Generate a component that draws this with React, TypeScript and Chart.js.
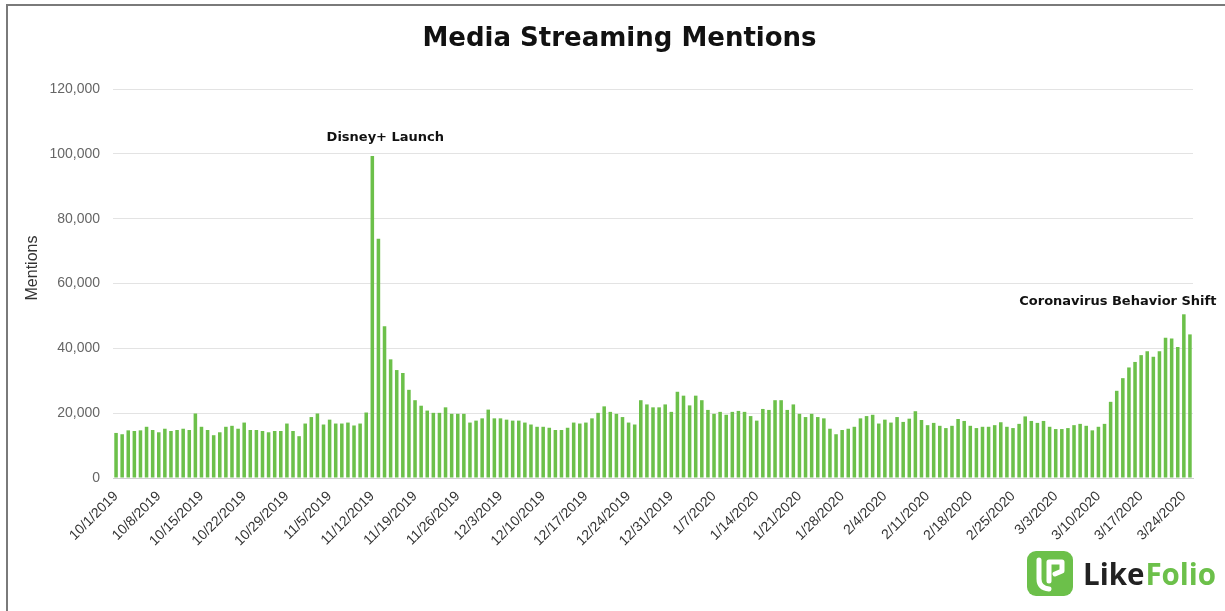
import React, { useEffect, useRef } from "react";
import { Chart, registerables } from "chart.js";

Chart.register(...registerables);

// Daily media-streaming mentions, 10/1/2019 – 3/25/2020
const OCT_2019 = [
  13900, 13500, 14700, 14500, 14700, 15800, 14800, 14100, 15200, 14500,
  14800, 15200, 14800, 19900, 15800, 14800, 13200, 14100, 15800, 16100,
  15200, 17100, 14800, 14800, 14500, 14100, 14500, 14500, 16800, 14500,
  12900,
];
const NOV_2019 = [
  16800, 18800, 19900, 16500, 18000, 16800, 16800, 17100, 16200, 16800,
  20200, 99300, 73800, 46800, 36600, 33300, 32400, 27200, 24000, 22300,
  20800, 20100, 20100, 21800, 19800, 19800, 19800, 17100, 17700, 18400,
];
const DEC_2019 = [
  21100, 18400, 18400, 18000, 17700, 17700, 17100, 16500, 15800, 15800,
  15500, 14800, 14800, 15500, 17100, 16800, 17100, 18400, 20100, 22100,
  20400, 19800, 18800, 17100, 16500, 24000, 22700, 21800, 21800, 22700,
  20400,
];
const JAN_2020 = [
  26600, 25400, 22400, 25400, 24000, 21000, 19800, 20400, 19500, 20400,
  20700, 20400, 19100, 17700, 21300, 21000, 24000, 24000, 21000, 22700,
  19800, 18800, 19800, 18800, 18400, 15200, 13500, 14800, 15200, 15800,
  18400,
];
const FEB_2020 = [
  19100, 19500, 16800, 18000, 17100, 18800, 17300, 18300, 20600, 17900,
  16300, 17000, 16100, 15400, 16100, 18200, 17600, 16100, 15400, 15800,
  15800, 16300, 17200, 15800, 15400, 16700, 19000, 17600, 17000,
];
const MAR_2020 = [
  17600, 15800, 15100, 15100, 15400, 16300, 16700, 16100, 14700, 15800,
  16700, 23500, 26900, 30800, 34100, 35800, 37900, 39100, 37400, 39100,
  43300, 43000, 40400, 50500, 44300,
];

const VALUES = [...OCT_2019, ...NOV_2019, ...DEC_2019, ...JAN_2020, ...FEB_2020, ...MAR_2020];

// Category per day, starting at 10/1/2019
const DAYS = VALUES.map((_, i) => {
  const dt = new Date(2019, 9, 1 + i);
  return `${dt.getMonth() + 1}/${dt.getDate()}/${dt.getFullYear()}`;
});

const WEEK_LABELS = [
  "10/1/2019", "10/8/2019", "10/15/2019", "10/22/2019", "10/29/2019",
  "11/5/2019", "11/12/2019", "11/19/2019", "11/26/2019", "12/3/2019",
  "12/10/2019", "12/17/2019", "12/24/2019", "12/31/2019", "1/7/2020",
  "1/14/2020", "1/21/2020", "1/28/2020", "2/4/2020", "2/11/2020",
  "2/18/2020", "2/25/2020", "3/3/2020", "3/10/2020", "3/17/2020", "3/24/2020",
];

const Y_TICKS = [0, 20000, 40000, 60000, 80000, 100000, 120000];

const TITLE = "Media Streaming Mentions";
const Y_TITLE = "Mentions";
const ANNOTATIONS = [
  { text: "Disney+ Launch", date: "11/12/2019", dx: 13, dy: -15.5 },
  { text: "Coronavirus Behavior Shift", date: "3/24/2020", dx: -66, dy: -9 },
];

const GREEN = "#6cc04a";
const TEXT_FONT = "'DejaVu Sans', sans-serif";
const AXIS_FONT = "'Liberation Sans', Arial, sans-serif";

const decorPlugin = {
  id: "decor",
  beforeDraw(chart: any) {
    const ctx = chart.ctx;
    ctx.save();
    ctx.fillStyle = "#ffffff";
    ctx.fillRect(0, 0, chart.width, chart.height);
    ctx.fillStyle = "#7a7a7a";
    ctx.fillRect(6, 4, chart.width - 6, 2);
    ctx.fillRect(6, 4, 2, chart.height - 4);
    ctx.restore();
  },
  afterDraw(chart: any) {
    const ctx = chart.ctx;
    const xs = chart.scales.x;
    const ys = chart.scales.y;
    ctx.save();

    // Title
    ctx.fillStyle = "#111111";
    ctx.font = `bold 26px ${TEXT_FONT}`;
    ctx.textAlign = "center";
    ctx.textBaseline = "alphabetic";
    ctx.fillText(TITLE, 619.5, 46);

    // Y axis title
    ctx.save();
    ctx.translate(32.5, 268);
    ctx.rotate(-Math.PI / 2);
    ctx.font = `16px ${AXIS_FONT}`;
    ctx.fillStyle = "#333333";
    ctx.textBaseline = "middle";
    ctx.fillText(Y_TITLE, 0, 0);
    ctx.restore();

    // Annotations anchored to their bars
    ctx.font = `bold 13px ${TEXT_FONT}`;
    ctx.fillStyle = "#111111";
    ctx.textAlign = "center";
    ctx.textBaseline = "alphabetic";
    ANNOTATIONS.forEach((a) => {
      const idx = DAYS.indexOf(a.date);
      const x = xs.getPixelForValue(idx) + a.dx;
      const y = ys.getPixelForValue(VALUES[idx]) + a.dy;
      ctx.fillText(a.text, x, y);
    });

    // Logo
    const lx = 1027, ly = 551, lw = 46, lh = 45, r = 9;
    ctx.fillStyle = GREEN;
    ctx.beginPath();
    ctx.moveTo(lx + r, ly);
    ctx.arcTo(lx + lw, ly, lx + lw, ly + lh, r);
    ctx.arcTo(lx + lw, ly + lh, lx, ly + lh, r);
    ctx.arcTo(lx, ly + lh, lx, ly, r);
    ctx.arcTo(lx, ly, lx + lw, ly, r);
    ctx.closePath();
    ctx.fill();
    ctx.strokeStyle = "#ffffff";
    ctx.lineWidth = 5;
    ctx.lineCap = "round";
    ctx.lineJoin = "round";
    ctx.beginPath();
    ctx.moveTo(lx + 12, ly + 9);
    ctx.lineTo(lx + 12, ly + 28);
    ctx.quadraticCurveTo(lx + 12, ly + 37, lx + 22, ly + 38);
    ctx.stroke();
    ctx.beginPath();
    ctx.moveTo(lx + 22, ly + 30);
    ctx.lineTo(lx + 22, ly + 11);
    ctx.lineTo(lx + 35, ly + 11);
    ctx.lineTo(lx + 35, ly + 20);
    ctx.lineTo(lx + 28, ly + 23);
    ctx.stroke();

    ctx.font = `bold 29.5px 'Open Sans', sans-serif`;
    ctx.textAlign = "left";
    ctx.textBaseline = "alphabetic";
    ctx.fillStyle = "#222222";
    ctx.fillText("Like", 1083, 585);
    const w = ctx.measureText("Like").width;
    ctx.fillStyle = GREEN;
    ctx.fillText("Folio", 1083 + w + 1, 585);

    ctx.restore();
  },
};

export default function App() {
  const ref = useRef<HTMLCanvasElement | null>(null);

  useEffect(() => {
    if (!ref.current) return;
    const chart = new Chart(ref.current, {
      type: "bar",
      data: {
        labels: DAYS,
        datasets: [
          {
            data: VALUES,
            backgroundColor: GREEN,
            barPercentage: 0.58,
            categoryPercentage: 1,
          },
        ],
      },
      options: {
        responsive: false,
        animation: false,
        layout: { padding: { top: 89, right: 32, left: 0, bottom: 0 } },
        plugins: {
          legend: { display: false },
          tooltip: { enabled: false },
          title: { display: false },
        },
        scales: {
          x: {
            grid: { display: false, drawTicks: false },
            border: { display: true, color: "#cfcfcf" },
            ticks: {
              autoSkip: false,
              maxRotation: 45,
              minRotation: 45,
              padding: 10,
              color: "#333333",
              font: { family: AXIS_FONT, size: 14 },
              callback: (_v: any, i: number) => (WEEK_LABELS.includes(DAYS[i]) ? DAYS[i] : ""),
            },
            afterFit: (s: any) => {
              s.height = 133;
            },
          },
          y: {
            min: Y_TICKS[0],
            max: Y_TICKS[Y_TICKS.length - 1],
            ticks: {
              stepSize: Y_TICKS[1] - Y_TICKS[0],
              padding: 13,
              color: "#666666",
              font: { family: AXIS_FONT, size: 14 },
              callback: (v: any) => Number(v).toLocaleString("en-US"),
            },
            grid: { color: "#e3e3e3", drawTicks: false },
            border: { display: false },
            afterFit: (s: any) => {
              s.width = 113;
            },
          },
        },
      },
      plugins: [decorPlugin],
    });
    return () => chart.destroy();
  }, []);

  return (
    <div style={{ position: "absolute", left: 0, top: 0, width: 1225, height: 611 }}>
      <canvas ref={ref} width={1225} height={611} style={{ width: 1225, height: 611, display: "block" }} />
    </div>
  );
}
